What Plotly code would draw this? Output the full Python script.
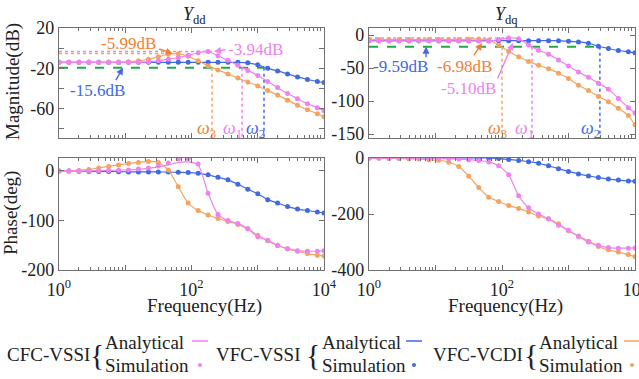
import numpy as np
import plotly.graph_objects as go

# ---------------- data ----------------
freq = [1, 1.41, 2, 2.82, 3.98, 5.62, 7.94, 11.2, 15.8, 22.4, 31.6, 44.7, 63.1, 89.1,
        126, 178, 251, 355, 501, 708, 1000, 1413, 1995, 2818, 3981, 5623, 7943, 10000]

# Ydd magnitude (dB)
cfc_dd_mag = [-14, -14, -14, -14, -14, -14, -14, -14, -14, -13.5, -12.5, -11, -9.5, -7,
              -4.5, -3.3, -7.5, -12, -17, -22, -27, -33, -39, -45, -50, -55, -59, -62]
vfc_dd_mag = [-14, -14, -14, -14, -14, -14, -14, -14, -14, -14, -14, -14, -14, -14,
              -14, -14, -14, -14, -14, -14.5, -16.5, -20, -22.5, -25.5, -28.5, -31, -33, -34]
vcdi_dd_mag = [-14, -14, -14, -14, -14, -14, -14, -13.5, -12.5, -11, -8.5, -6, -5.5, -8,
               -12.5, -17.5, -21.5, -25.5, -29.5, -33.5, -37.5, -42, -46.5, -51.5, -56.5, -61, -65, -68]
# Ydd phase (deg)
cfc_dd_ph = [0, 0, 0, 0, 0.5, 1, 1.5, 2, 3, 5, 8, 12, 17, 18,
             12, -45, -88, -100, -106, -117, -133, -140, -150, -157, -161, -162, -162, -161]
cfc_dd_ph_sim = [0, 0, 0, 0, 0.5, 1, 1.5, 2, 4, 6, 10, 16, 24, 25,
                 14, -45, -88, -100, -106, -117, -133, -140, -150, -157, -161, -162, -162, -161]
vfc_dd_ph = [0, 0, -0.5, -1, -1, -1, -1.5, -2, -2, -2, -2, -2.5, -3, -3.5,
             -5, -8, -13, -18, -27, -37, -46, -58, -65, -72, -77, -80, -83, -85]
vcdi_dd_ph = [0, 0, 1, 3, 6, 9, 12, 15, 17, 19, 17, 2, -32, -65,
              -80, -89, -96, -102, -108, -117, -130, -141, -151, -157, -162, -167, -170, -172]

# Ydq magnitude (dB)
cfc_dq_mag = [-9, -9, -9, -9, -9, -9, -9, -9, -9, -9, -9, -9, -9, -7,
              -4.5, -5.5, -15, -23, -29, -38, -47, -56, -64, -73, -82, -96, -110, -118]
vfc_dq_mag = [-8.6, -8.6, -8.6, -8.6, -8.6, -8.6, -8.6, -8.6, -8.6, -8.6, -8.6, -8.6, -8.6, -8.6,
              -8.6, -8.6, -8.6, -8.6, -8.6, -8.6, -9.5, -10.5, -12.5, -17, -20.5, -23.5, -25.5, -27]
vcdi_dq_mag = [-7, -7, -7, -7, -7, -7, -7, -7, -7, -7, -6.5, -6, -8, -15,
               -25, -33, -40, -46, -51, -58, -66, -76, -84, -93, -101, -111, -122, -136]
# Ydq phase (deg)
cfc_dq_ph = [0, 0, 0, 0, 0, 0, 0, -1, -2, -4, -6, -9, -14, -28,
             -60, -135, -178, -200, -217, -240, -258, -280, -300, -312, -320, -322, -322, -321]
vfc_dq_ph = [0, 0, 0, 0, 0, 0, 0, 0, 0, 0, 0, 0, 0, -2,
             -5, -9, -13, -19, -28, -38, -48, -57, -64, -70, -75, -79, -82, -83]
vcdi_dq_ph = [0, 0, -1, -2, -3, -4, -6, -8, -15, -30, -65, -105, -140, -155,
              -170, -180, -193, -207, -218, -235, -260, -279, -297, -316, -328, -336, -345, -352]

# reference levels / bandwidth markers
dd_green = -19.3
dd_peak_cfc = (204, -3.3)
dd_peak_vcdi = (52, -5.3)
dd_omega = {"cfc": 580, "vfc": 1242, "vcdi": 204}
dq_green = -17.7
dq_peak_cfc = (141, -4.5)
dq_omega = {"cfc": 283, "vfc": 2966, "vcdi": 100}

# ---------------- style ----------------
PINK = "#EE82EE"
BLUE = "#4169E1"
ORANGE = "#F4A460"
ORANGE_TXT = "#F08030"
GREEN = "#22AA44"
FONT = "Liberation Serif"
W, H = 639, 379

fig = go.Figure()

def add_series(xa, ya, y_ana, y_sim, color):
    fig.add_trace(go.Scatter(x=freq, y=y_ana, mode="lines", line=dict(color=color, width=1.2, shape="spline", smoothing=0.6),
                             xaxis=xa, yaxis=ya, showlegend=False, hoverinfo="skip"))
    fig.add_trace(go.Scatter(x=freq, y=y_sim, mode="markers", marker=dict(color=color, size=5),
                             xaxis=xa, yaxis=ya, showlegend=False, hoverinfo="skip"))

def add_ref(xa, ya, xs, ys, color, dash, width=1.5):
    fig.add_trace(go.Scatter(x=xs, y=ys, mode="lines", line=dict(color=color, width=width, dash=dash),
                             xaxis=xa, yaxis=ya, showlegend=False, hoverinfo="skip"))

# reference lines Ydd (drawn first, under curves)
add_ref("x", "y", [1, dd_peak_cfc[0]], [dd_peak_cfc[1]] * 2, PINK, "dot")
add_ref("x", "y", [1, dd_peak_vcdi[0]], [dd_peak_vcdi[1]] * 2, ORANGE, "dot")
add_ref("x", "y", [1, dd_omega["vfc"]], [dd_green] * 2, GREEN, "dash", 2)
add_ref("x", "y", [dd_omega["vcdi"]] * 2, [dd_green, -95], ORANGE, "dot")
add_ref("x", "y", [dd_omega["cfc"]] * 2, [dd_green, -95], PINK, "dot")
add_ref("x", "y", [dd_omega["vfc"]] * 2, [dd_green, -95], BLUE, "dot")
# reference lines Ydq
add_ref("x2", "y2", [1, dq_peak_cfc[0]], [dq_peak_cfc[1]] * 2, PINK, "dot")
add_ref("x2", "y2", [1, dq_omega["vfc"]], [dq_green] * 2, GREEN, "dash", 2)
add_ref("x2", "y2", [dq_omega["vcdi"]] * 2, [dq_green, -170], ORANGE, "dot")
add_ref("x2", "y2", [dq_omega["cfc"]] * 2, [dq_green, -170], PINK, "dot")
add_ref("x2", "y2", [dq_omega["vfc"]] * 2, [dq_green, -170], BLUE, "dot")

add_series("x", "y", vfc_dd_mag, vfc_dd_mag, BLUE)
add_series("x", "y", vcdi_dd_mag, vcdi_dd_mag, ORANGE)
add_series("x", "y", cfc_dd_mag, cfc_dd_mag, PINK)
add_series("x2", "y2", vfc_dq_mag, vfc_dq_mag, BLUE)
add_series("x2", "y2", vcdi_dq_mag, vcdi_dq_mag, ORANGE)
add_series("x2", "y2", cfc_dq_mag, cfc_dq_mag, PINK)
add_series("x3", "y3", vfc_dd_ph, vfc_dd_ph, BLUE)
add_series("x3", "y3", vcdi_dd_ph, vcdi_dd_ph, ORANGE)
add_series("x3", "y3", cfc_dd_ph, cfc_dd_ph_sim, PINK)
add_series("x4", "y4", vfc_dq_ph, vfc_dq_ph, BLUE)
add_series("x4", "y4", vcdi_dq_ph, vcdi_dq_ph, ORANGE)
add_series("x4", "y4", cfc_dq_ph, cfc_dq_ph, PINK)

# ---------------- axes ----------------
def px_dom_x(a, b):
    return [a / W, b / W]

def px_dom_y(top, bot):
    return [1 - bot / H, 1 - top / H]

minor_vals = [m * 10 ** e for e in range(4) for m in range(2, 10)]
axis_common = dict(showline=True, linecolor="#707070", linewidth=1.2, mirror="ticks", ticks="inside",
                   ticklen=5, tickcolor="#707070", showgrid=False, zeroline=False, automargin=False,
                   ticklabeloverflow="allow",
                   tickfont=dict(family=FONT, size=18, color="#222"))

def xaxis(dom, anchor, labels):
    return dict(axis_common, type="log", range=[0, 4], domain=dom, anchor=anchor,
                tickvals=[1, 10, 100, 1000, 10000], ticklabelstandoff=3,
                ticktext=(["10<sup>0</sup>", "", "10<sup>2</sup>", "", "10<sup>4</sup>"] if labels else [""] * 5),
                minor=dict(tickvals=minor_vals, ticks="inside", ticklen=3, tickcolor="#707070"))

def yaxis(dom, anchor, rng, vals, text):
    return dict(axis_common, range=rng, domain=dom, anchor=anchor, tickvals=vals, ticktext=text)

L, R = (59, 324), (369, 635)
T, B = (28, 138), (158, 270)
fig.update_layout(
    xaxis=xaxis(px_dom_x(*L), "y", False),
    yaxis=yaxis(px_dom_y(*T), "x", [-89, 20], [20, 0, -20, -40, -60, -80], ["20", "", "-20", "", "-60", ""]),
    xaxis2=xaxis(px_dom_x(*R), "y2", False),
    yaxis2=yaxis(px_dom_y(*T), "x2", [-156, 10.6], [0, -50, -100, -150], ["0", "-50", "-100", "-150"]),
    xaxis3=xaxis(px_dom_x(*L), "y3", True),
    yaxis3=yaxis(px_dom_y(*B), "x3", [-200, 26], [0, -100, -200], ["0", "-100", "-200"]),
    xaxis4=xaxis(px_dom_x(*R), "y4", True),
    yaxis4=yaxis(px_dom_y(*B), "x4", [-400, 0], [0, -200, -400], ["0", "-200", "-400"]),
    width=W, height=H, margin=dict(l=0, r=0, t=0, b=0, autoexpand=False),
    paper_bgcolor="white", plot_bgcolor="white", showlegend=False,
)

# ---------------- annotations ----------------
def txt(px, py, text, color="#222", size=17, angle=0, xanchor="center"):
    fig.add_annotation(x=px / W, y=1 - py / H, xref="paper", yref="paper", text=text, showarrow=False,
                       font=dict(family=FONT, size=size, color=color), textangle=angle,
                       xanchor=xanchor, yanchor="middle")

def arrow(xr, yr, f, v, ax, ay, color):
    fig.add_annotation(x=np.log10(f), y=v, xref=xr, yref=yr, text="", showarrow=True, ax=ax, ay=ay,
                       arrowhead=2, arrowsize=1, arrowwidth=1.4, arrowcolor=color)

txt(194, 15, "<i>Y</i><sub>dd</sub>", size=18)
txt(506, 15, "<i>Y</i><sub>dq</sub>", size=18)
txt(13, 82, "Magnitude(dB)", size=19, angle=-90)
txt(11, 213, "Phase(deg)", size=19, angle=-90)
txt(204, 306, "Frequency(Hz)", size=19)
txt(505, 306, "Frequency(Hz)", size=19)

# Ydd labels
txt(128, 43, "-5.99dB", ORANGE_TXT)
arrow("x", "y", 52, -5.3, -15, -5, ORANGE_TXT)
txt(255, 50, "-3.94dB", PINK)
arrow("x", "y", 219, -3.3, 13, -2, PINK)
txt(97, 91, "-15.6dB", BLUE)
arrow("x", "y", 9.25, dd_green, -8, 14, BLUE)
txt(206, 130, "<i>ω</i><sub>3</sub>", ORANGE_TXT, 18)
txt(232, 130, "<i>ω</i><sub>1</sub>", PINK, 18)
txt(255, 130, "<i>ω</i><sub>2</sub>", BLUE, 18)

# Ydq labels
txt(401, 67, "-9.59dB", BLUE)
arrow("x2", "y2", 7.2, dq_green, 0, 12, BLUE)
txt(464, 67, "-6.98dB", ORANGE_TXT)
arrow("x2", "y2", 50, -12, -9, 14, ORANGE_TXT)
txt(468, 89, "-5.10dB", PINK)
arrow("x2", "y2", 146, -12, -16, 37, PINK)
txt(497, 129, "<i>ω</i><sub>3</sub>", ORANGE_TXT, 18)
txt(524, 129, "<i>ω</i><sub>1</sub>", PINK, 18)
txt(590, 129, "<i>ω</i><sub>2</sub>", BLUE, 18)

# legend
groups = [("CFC-VSSI", 48, 97, 103, 200, PINK),
          ("VFC-VSSI", 258, 313, 320, 414, BLUE),
          ("VFC-VCDI", 478, 531, 537, 632, ORANGE)]
for name, cx, bx, lx, sx, col in groups:
    txt(cx, 354, name, size=19)
    txt(bx, 354, "{", size=30)
    txt(lx, 342, "Analytical", size=19, xanchor="left")
    txt(lx, 365, "Simulation", size=19, xanchor="left")
    fig.add_shape(type="line", xref="paper", yref="paper", x0=(sx - 8) / W, x1=(sx + 8) / W,
                  y0=1 - 341 / H, y1=1 - 341 / H, line=dict(color=col, width=1.5))
    fig.add_shape(type="circle", xref="paper", yref="paper", x0=(sx - 2) / W, x1=(sx + 2) / W,
                  y0=1 - 367 / H, y1=1 - 363 / H, fillcolor=col, line=dict(color=col, width=0))

fig.write_html("out.html")
